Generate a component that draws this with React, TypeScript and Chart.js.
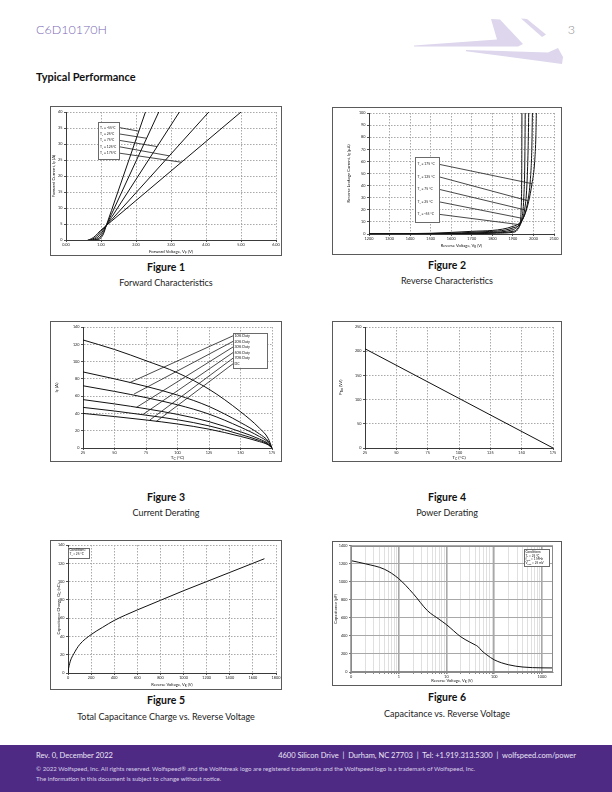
import React, { useEffect, useRef } from "react";
import { Chart, registerables } from "chart.js";

Chart.register(...registerables);

const FAM = "Lato, 'Noto Sans', 'DejaVu Sans', sans-serif";
const GRID = "#a9a9a9";

// ---------------- Figure 1 : Forward characteristics ----------------
const fwdTemps = ["-55°C", "25°C", "75°C", "125°C", "175°C"];
const fwdV_m55 = [0.84, 0.93, 1.0, 1.07, 1.15, 1.3, 2.27];
const fwdI_m55 = [0, 0.15, 0.7, 1.9, 4.5, 9.25, 40];
const fwdV_25 = [0.77, 0.87, 0.96, 1.05, 1.15, 1.3, 2.65];
const fwdI_25 = [0, 0.2, 0.8, 2.1, 4.5, 8.06, 40];
const fwdV_75 = [0.71, 0.81, 0.91, 1.02, 1.15, 1.3, 3.24];
const fwdI_75 = [0, 0.25, 0.9, 2.3, 4.5, 7.05, 40];
const fwdV_125 = [0.66, 0.76, 0.87, 1.0, 1.15, 1.3, 4.08];
const fwdI_125 = [0, 0.3, 1.1, 2.7, 4.5, 6.3, 40];
const fwdV_175 = [0.62, 0.72, 0.84, 0.98, 1.15, 1.3, 5.0];
const fwdI_175 = [0, 0.35, 1.3, 2.9, 4.5, 5.88, 40];
const fwdLeadV = [2.08, 2.3, 2.6, 2.95, 3.3];
const fwdLeadI = [34, 31.8, 29.2, 26.3, 24.3];
const fwdXTicks = [0, 1, 2, 3, 4, 5, 6];
const fwdYTicks = [0, 5, 10, 15, 20, 25, 30, 35, 40];

// ---------------- Figure 2 : Reverse characteristics ----------------
const revTemps = ["175 °C", "125 °C", "75 °C", "25 °C", "-55 °C"];
const revV_175 = [1200, 1500, 1700, 1900, 1960, 1993, 2006, 2012, 2014];
const revI_175 = [0, 0.6, 2.2, 6.3, 17, 41.6, 60, 82, 100];
const revV_125 = [1200, 1550, 1750, 1900, 1945, 1973, 1985, 1992, 1995];
const revI_125 = [0, 0.5, 1.8, 5, 11, 27.5, 45, 70, 100];
const revV_75 = [1200, 1600, 1780, 1900, 1935, 1957, 1968, 1974, 1977];
const revI_75 = [0, 0.4, 1.3, 3.6, 9, 20, 40, 70, 100];
const revV_25 = [1200, 1650, 1800, 1900, 1925, 1944, 1953, 1958, 1960];
const revI_25 = [0, 0.3, 1, 2.2, 5, 13, 30, 60, 100];
const revV_m55 = [1200, 1700, 1820, 1900, 1920, 1933, 1940, 1943, 1944];
const revI_m55 = [0, 0.2, 0.7, 1.4, 3, 7.7, 20, 50, 100];
const revLeadV = [1993, 1973, 1957, 1944, 1933];
const revLeadI = [41.6, 27.5, 20, 13, 7.7];
const revXTicks = [1200, 1300, 1400, 1500, 1600, 1700, 1800, 1900, 2000, 2100];
const revYTicks = [0, 10, 20, 30, 40, 50, 60, 70, 80, 90, 100];

// ---------------- Figure 3 : Current derating ----------------
const derDuty = ["10% Duty", "20% Duty", "30% Duty", "50% Duty", "70% Duty", "DC"];
const derTc = [25, 50, 75, 100, 125, 150, 165, 172, 175];
const derI_10 = [125, 114, 101, 87, 68, 42, 23, 11, 0];
const derI_20 = [88, 80, 71.3, 61.2, 48, 29.5, 16.3, 7.9, 0];
const derI_30 = [72, 65.5, 58.3, 50, 39.2, 24.1, 13.3, 6.5, 0];
const derI_50 = [56, 51, 45.4, 38.9, 30.5, 18.8, 10.4, 5, 0];
const derI_70 = [47, 42.8, 38, 32.7, 25.6, 15.7, 8.7, 4.2, 0];
const derI_DC = [40, 36.4, 32.4, 27.8, 21.8, 13.4, 7.4, 3.6, 0];
const derLeadT = [62, 65.5, 67.3, 72.6, 77.9, 83];
const derLeadI = [75.6, 62.4, 46.9, 38.8, 32.2, 30.5];
const derXTicks = [25, 50, 75, 100, 125, 150, 175];
const derYTicks = [0, 20, 40, 60, 80, 100, 120, 140];

// ---------------- Figure 4 : Power derating ----------------
const pwrTc = [25, 175];
const pwrP = [205, 0];
const pwrXTicks = [25, 50, 75, 100, 125, 150, 175];
const pwrYTicks = [0, 50, 100, 150, 200, 250];

// ---------------- Figure 5 : Capacitance charge ----------------
const qcV = [0, 5, 10, 20, 50, 100, 200, 300, 400, 500, 600, 800, 1000, 1200, 1400, 1600, 1700];
const qcQ = [0, 5, 8, 13, 21, 31, 42, 50, 57.5, 63.5, 69, 79.5, 90, 100, 110, 120, 125];
const qcXTicks = [0, 200, 400, 600, 800, 1000, 1200, 1400, 1600, 1800];
const qcYTicks = [0, 20, 40, 60, 80, 100, 120, 140];

// ---------------- Figure 6 : Capacitance ----------------
const capV = [0.1, 0.2, 0.5, 1, 2, 4, 7, 10, 20, 30, 40, 45, 55, 70, 100, 200, 400, 1000, 1700];
const capC = [1235, 1200, 1140, 1035, 870, 680, 585, 525, 390, 335, 300, 285, 235, 190, 135, 80, 55, 46, 45];
const capXMajors = [0.1, 1, 10, 100, 1000];
const capXLabels = ["0", "1", "10", "100", "1000"];
const capYTicks = [0, 200, 400, 600, 800, 1000, 1200, 1400];

// ------------------------------------------------------------
type Part = [string, boolean];
type Rich = Part[];
type Box = { x: number; y: number; w: number; h: number };
type Area = { l: number; t: number; r: number; b: number };
type Geo = { W: number; H: number; L: number; T: number; R: number; B: number; ox: number; oy: number };

const zip = (xs: number[], ys: number[]) => xs.map((x, i) => ({ x, y: ys[i] }));

function drawRich(ctx: CanvasRenderingContext2D, parts: Rich, x: number, y: number, size: number, align: string, color = "#111") {
  ctx.save();
  ctx.textBaseline = "middle";
  ctx.textAlign = "left";
  ctx.fillStyle = color;
  const sub = size * 0.72;
  let total = 0;
  for (const [t, s] of parts) {
    ctx.font = `${s ? sub : size}px ${FAM}`;
    total += ctx.measureText(t).width;
  }
  let cx = align === "center" ? x - total / 2 : align === "right" ? x - total : x;
  for (const [t, s] of parts) {
    ctx.font = `${s ? sub : size}px ${FAM}`;
    ctx.fillText(t, cx, s ? y + size * 0.3 : y);
    cx += ctx.measureText(t).width;
  }
  ctx.restore();
}

type Callout = {
  box: Box;
  rows: Rich[];
  rowY: number[];
  textX: number;
  size: number;
  anchor?: "left" | "right";
  endX?: number[];
  endY?: number[];
};
type Decor = {
  xTitle: Rich;
  xTitleY: number;
  yTitle: Rich;
  yTitleX: number;
  titleSize: number;
  frame?: string;
  callout?: Callout;
};

function decorPlugin(d: Decor, g: Geo) {
  return {
    id: "decor",
    afterDraw(chart: any) {
      const ctx: CanvasRenderingContext2D = chart.ctx;
      const a = chart.chartArea;
      const sx = chart.scales.x;
      const sy = chart.scales.y;
      if (d.frame) {
        ctx.save();
        ctx.strokeStyle = d.frame;
        ctx.lineWidth = 1;
        ctx.strokeRect(Math.round(a.left) + 0.5, Math.round(a.top) + 0.5, Math.round(a.right - a.left) - 1, Math.round(a.bottom - a.top) - 1);
        ctx.restore();
      }
      drawRich(ctx, d.xTitle, (a.left + a.right) / 2, d.xTitleY - g.oy, d.titleSize, "center");
      ctx.save();
      ctx.translate(d.yTitleX - g.ox, (a.top + a.bottom) / 2);
      ctx.rotate(-Math.PI / 2);
      drawRich(ctx, d.yTitle, 0, 0, d.titleSize, "center");
      ctx.restore();
      const c = d.callout;
      if (c) {
        const bx = c.box.x - g.ox;
        const by = c.box.y - g.oy;
        ctx.save();
        if (c.endX && c.endY) {
          ctx.strokeStyle = "#1a1a1a";
          ctx.lineWidth = 0.8;
          c.rowY.forEach((ry, i) => {
            if (c.endX![i] === undefined) return;
            const ax = c.anchor === "left" ? bx : bx + c.box.w;
            ctx.beginPath();
            ctx.moveTo(ax, ry - g.oy);
            ctx.lineTo(sx.getPixelForValue(c.endX![i]), sy.getPixelForValue(c.endY![i]));
            ctx.stroke();
          });
        }
        ctx.fillStyle = "#fff";
        ctx.fillRect(bx, by, c.box.w, c.box.h);
        ctx.strokeStyle = "#6a6a6a";
        ctx.lineWidth = 1;
        ctx.strokeRect(Math.round(bx) + 0.5, Math.round(by) + 0.5, Math.round(c.box.w), Math.round(c.box.h));
        c.rows.forEach((r, i) => drawRich(ctx, r, c.textX - g.ox, c.rowY[i] - g.oy, c.size, "left"));
        ctx.restore();
      }
    },
  };
}

function linAxis(pos: "x" | "y", g: Geo, min: number, max: number, ticks: number[], fmt: (v: number) => string) {
  return {
    type: "linear",
    position: pos === "x" ? "bottom" : "left",
    min,
    max,
    afterBuildTicks: (s: any) => {
      s.ticks = ticks.map((v) => ({ value: v }));
    },
    afterFit: (s: any) => {
      if (pos === "x") s.height = g.H - g.B;
      else s.width = g.L;
    },
    grid: { color: GRID, lineWidth: 1, tickLength: 2, tickColor: "#555", drawTicks: true },
    border: { display: true, color: "#3a3a3a", width: 1, dash: [1.5, 1.5] },
    ticks: {
      autoSkip: false,
      maxRotation: 0,
      minRotation: 0,
      padding: pos === "x" ? 0.5 : 1.5,
      color: "#222",
      font: { size: 3.8, family: FAM },
      callback: (v: any) => fmt(Number(v)),
    },
    title: { display: false },
  };
}

function lineSet(data: { x: number; y: number }[]) {
  return {
    data,
    borderColor: "#111",
    borderWidth: 1,
    pointRadius: 0,
    fill: false,
    cubicInterpolationMode: "monotone",
  };
}

function baseOptions(g: Geo, scales: any) {
  return {
    animation: false,
    responsive: false,
    devicePixelRatio: 1,
    layout: { padding: { top: g.T, right: g.W - g.R, left: 0, bottom: 0 } },
    plugins: { legend: { display: false }, tooltip: { enabled: false } },
    scales,
  };
}

function PlotBox({ box, area, build }: { box: Box; area: Area; build: (g: Geo) => any }) {
  const ref = useRef<HTMLCanvasElement>(null);
  useEffect(() => {
    const W = box.w - 2;
    const H = box.h - 2;
    const ox = box.x + 1;
    const oy = box.y + 1;
    const g: Geo = { W, H, ox, oy, L: area.l - ox, T: area.t - oy, R: area.r - ox, B: area.b - oy };
    const chart = new Chart(ref.current as HTMLCanvasElement, build(g));
    return () => chart.destroy();
  }, []);
  return (
    <div
      style={{
        position: "absolute",
        left: box.x,
        top: box.y,
        width: box.w,
        height: box.h,
        border: "1px solid #5a5a5a",
        boxSizing: "border-box",
        background: "#fff",
      }}
    >
      <canvas ref={ref} width={box.w - 2} height={box.h - 2} style={{ display: "block", width: box.w - 2, height: box.h - 2 }} />
    </div>
  );
}

const TJ = (rest: string): Rich => [["T", false], ["J", true], [rest, false]];

// ---------------- chart builders ----------------
function buildFwd(g: Geo) {
  const sets = [
    zip(fwdV_m55, fwdI_m55),
    zip(fwdV_25, fwdI_25),
    zip(fwdV_75, fwdI_75),
    zip(fwdV_125, fwdI_125),
    zip(fwdV_175, fwdI_175),
  ].map(lineSet);
  const rowY = fwdTemps.map((_, i) => 127.5 + i * 6.4);
  return {
    type: "line",
    data: { datasets: sets },
    options: baseOptions(g, {
      x: linAxis("x", g, 0, 6, fwdXTicks, (v) => v.toFixed(2)),
      y: linAxis("y", g, 0, 40, fwdYTicks, (v) => String(v)),
    }),
    plugins: [
      decorPlugin(
        {
          xTitle: [["Forward Voltage, V", false], ["F", true], [" (V)", false]],
          xTitleY: 251.5,
          yTitle: [["Forward Current, I", false], ["F", true], [" (A)", false]],
          yTitleX: 54,
          titleSize: 4.3,
          callout: {
            box: { x: 98, y: 122, w: 21, h: 37 },
            rows: fwdTemps.map((t) => TJ(" = " + t)),
            rowY,
            textX: 100,
            size: 3.4,
            anchor: "right",
            endX: fwdLeadV,
            endY: fwdLeadI,
          },
        },
        g
      ),
    ],
  };
}

function buildRev(g: Geo) {
  const sets = [
    zip(revV_175, revI_175),
    zip(revV_125, revI_125),
    zip(revV_75, revI_75),
    zip(revV_25, revI_25),
    zip(revV_m55, revI_m55),
  ].map(lineSet);
  const rowY = revTemps.map((_, i) => 164.3 + i * 12.5);
  return {
    type: "line",
    data: { datasets: sets },
    options: baseOptions(g, {
      x: linAxis("x", g, 1200, 2100, revXTicks, (v) => String(v)),
      y: linAxis("y", g, 0, 100, revYTicks, (v) => String(v)),
    }),
    plugins: [
      decorPlugin(
        {
          xTitle: [["Reverse Voltage, V", false], ["R", true], [" (V)", false]],
          xTitleY: 245.5,
          yTitle: [["Reverse Leakage Current, I", false], ["R", true], [" (µA)", false]],
          yTitleX: 348.5,
          titleSize: 4.1,
          callout: {
            box: { x: 415, y: 157, w: 24, h: 65 },
            rows: revTemps.map((t) => TJ(" = " + t)),
            rowY,
            textX: 417.5,
            size: 3.4,
            anchor: "right",
            endX: revLeadV,
            endY: revLeadI,
          },
        },
        g
      ),
    ],
  };
}

function buildDer(g: Geo) {
  const sets = [derI_10, derI_20, derI_30, derI_50, derI_70, derI_DC].map((ys) => lineSet(zip(derTc, ys)));
  const rowY = derDuty.map((_, i) => 335.8 + i * 5.6);
  return {
    type: "line",
    data: { datasets: sets },
    options: baseOptions(g, {
      x: linAxis("x", g, 25, 175, derXTicks, (v) => String(v)),
      y: linAxis("y", g, 0, 140, derYTicks, (v) => String(v)),
    }),
    plugins: [
      decorPlugin(
        {
          xTitle: [["T", false], ["C", true], [" (°C)", false]],
          xTitleY: 457.5,
          yTitle: [["I", false], ["F", true], [" (A)", false]],
          yTitleX: 57,
          titleSize: 4.6,
          callout: {
            box: { x: 233, y: 333, w: 34, h: 34.5 },
            rows: derDuty.map((t) => [[t, false]] as Rich),
            rowY,
            textX: 234.5,
            size: 3.5,
            anchor: "left",
            endX: derLeadT,
            endY: derLeadI,
          },
        },
        g
      ),
    ],
  };
}

function buildPwr(g: Geo) {
  return {
    type: "line",
    data: { datasets: [lineSet(zip(pwrTc, pwrP))] },
    options: baseOptions(g, {
      x: linAxis("x", g, 25, 175, pwrXTicks, (v) => String(v)),
      y: linAxis("y", g, 0, 250, pwrYTicks, (v) => String(v)),
    }),
    plugins: [
      decorPlugin(
        {
          xTitle: [["T", false], ["C", true], [" (°C)", false]],
          xTitleY: 457.5,
          yTitle: [["P", false], ["Tot", true], [" (W)", false]],
          yTitleX: 341,
          titleSize: 4.6,
        },
        g
      ),
    ],
  };
}

function buildQc(g: Geo) {
  return {
    type: "line",
    data: { datasets: [lineSet(zip(qcV, qcQ))] },
    options: baseOptions(g, {
      x: linAxis("x", g, 0, 1800, qcXTicks, (v) => String(v)),
      y: linAxis("y", g, 0, 140, qcYTicks, (v) => String(v)),
    }),
    plugins: [
      decorPlugin(
        {
          xTitle: [["Reverse Voltage, V", false], ["R", true], [" (V)", false]],
          xTitleY: 684.5,
          yTitle: [["Capacitance Charge, Q", false], ["C", true], [" (nC)", false]],
          yTitleX: 58.5,
          titleSize: 4.1,
          callout: {
            box: { x: 68, y: 547.5, w: 21, h: 9.5 },
            rows: [[["Conditions:", false]], TJ(" = 25 °C")],
            rowY: [550.3, 554.4],
            textX: 69.5,
            size: 3.2,
          },
        },
        g
      ),
    ],
  };
}

function buildCap(g: Geo) {
  const minors: number[] = [];
  capXMajors.forEach((m) => {
    for (let k = 2; k <= 9; k++) if (m * k < 1700) minors.push(+(m * k).toPrecision(3));
  });
  const all = [...capXMajors, ...minors].sort((a, b) => a - b);
  const isMajor = (v: number) => capXMajors.indexOf(v) >= 0;
  const yAx: any = linAxis("y", g, 0, 1400, capYTicks, (v) => String(v));
  yAx.grid = { color: "#a8a8a8", lineWidth: 1, tickLength: 2, tickColor: "#777", drawTicks: true };
  yAx.border = { display: true, color: "#8a8a8a", width: 1 };
  const xAx: any = {
    type: "logarithmic",
    position: "bottom",
    min: 0.1,
    max: 1700,
    afterBuildTicks: (s: any) => {
      s.ticks = all.map((v) => ({ value: v }));
    },
    afterFit: (s: any) => {
      s.height = g.H - g.B;
    },
    grid: {
      color: (c: any) => (c.tick && isMajor(c.tick.value) ? "#a8a8a8" : "#e0e0e0"),
      lineWidth: (c: any) => (c.tick && isMajor(c.tick.value) ? 1.6 : 1),
      tickLength: 2,
      tickColor: "#888",
      drawTicks: true,
    },
    border: { display: true, color: "#8a8a8a", width: 1 },
    ticks: {
      autoSkip: false,
      maxRotation: 0,
      minRotation: 0,
      padding: 0.5,
      color: "#222",
      font: { size: 3.8, family: FAM },
      callback: (v: any) => {
        const i = capXMajors.indexOf(Number(v));
        return i >= 0 ? capXLabels[i] : "";
      },
    },
    title: { display: false },
  };
  return {
    type: "line",
    data: { datasets: [lineSet(zip(capV, capC))] },
    options: baseOptions(g, { x: xAx, y: yAx }),
    plugins: [
      decorPlugin(
        {
          xTitle: [["Reverse Voltage, V", false], ["R", true], [" (V)", false]],
          xTitleY: 680.5,
          yTitle: [["Capacitance (pF)", false]],
          yTitleX: 335.5,
          titleSize: 4.1,
          frame: "#8a8a8a",
          callout: {
            box: { x: 524, y: 549, w: 25, h: 17 },
            rows: [
              [["Conditions:", false]],
              TJ(" = 25 °C"),
              [["f", false], ["test", true], [" = 1 MHz", false]],
              [["V", false], ["test", true], [" = 25 mV", false]],
            ],
            rowY: [551.8, 555.6, 559.4, 563.2],
            textX: 525.5,
            size: 3.1,
          },
        },
        g
      ),
    ],
  };
}

// ---------------- page ----------------
function Txt(p: { x: number; cy: number; size: number; children: any; align?: string; bold?: boolean; color?: string; weight?: number }) {
  const st: any = {
    position: "absolute",
    top: p.cy - p.size / 2,
    fontSize: p.size,
    lineHeight: 1,
    whiteSpace: "nowrap",
    fontFamily: FAM,
    fontWeight: p.weight ?? (p.bold ? 700 : 400),
    color: p.color ?? "#111",
  };
  if (p.align === "center") {
    st.left = p.x;
    st.transform = "translateX(-50%)";
  } else if (p.align === "right") {
    st.right = 612 - p.x;
  } else st.left = p.x;
  return <div style={st}>{p.children}</div>;
}

export default function App() {
  const boxes = {
    f1: { box: { x: 50, y: 106, w: 232, h: 150 }, area: { l: 66, t: 112, r: 276, b: 240 } },
    f2: { box: { x: 332, y: 107, w: 230, h: 148 }, area: { l: 369, t: 113, r: 554, b: 234 } },
    f3: { box: { x: 50, y: 321, w: 232, h: 141 }, area: { l: 83, t: 327, r: 272, b: 448 } },
    f4: { box: { x: 332, y: 321, w: 230, h: 141 }, area: { l: 365, t: 327, r: 553, b: 448 } },
    f5: { box: { x: 50, y: 540, w: 232, h: 150 }, area: { l: 68, t: 545, r: 276, b: 673 } },
    f6: { box: { x: 332, y: 541, w: 230, h: 145 }, area: { l: 351, t: 545, r: 553, b: 672 } },
  };
  const caps = [
    { cx: 166, y1: 267.5, y2: 282.5, t: "Figure 1", s: "Forward Characteristics" },
    { cx: 447, y1: 265.5, y2: 280.5, t: "Figure 2", s: "Reverse Characteristics" },
    { cx: 166, y1: 497, y2: 512, t: "Figure 3", s: "Current Derating" },
    { cx: 447, y1: 497, y2: 512, t: "Figure 4", s: "Power Derating" },
    { cx: 166, y1: 700, y2: 716, t: "Figure 5", s: "Total Capacitance Charge vs. Reverse Voltage" },
    { cx: 447, y1: 697, y2: 713, t: "Figure 6", s: "Capacitance vs. Reverse Voltage" },
  ];
  return (
    <div style={{ position: "absolute", left: 0, top: 0, width: 612, height: 792, background: "#fff", overflow: "hidden", fontFamily: FAM }}>
      <Txt x={36} cy={30.5} size={12.5} color="#7a68b4" weight={300}>C6D10170H</Txt>
      <Txt x={575} cy={30.5} size={12.5} color="#8a8a8a" align="right" weight={300}>3</Txt>
      <svg style={{ position: "absolute", left: 0, top: 0 }} width={612} height={80}>
        <polygon points="414,45.5 497,39.5 491,19 500,19.5 523,44 518,46.5 414,46.5" fill="#ddd6ec" />
        <polygon points="466,50 548,52.5 558,48 563,57 562,64 466,51.2" fill="#ddd6ec" />
        <polygon points="521,18.5 527,19 546,34.5 542,37" fill="#ddd6ec" />
      </svg>
      <Txt x={36} cy={76} size={11} bold>Typical Performance</Txt>

      <PlotBox {...boxes.f1} build={buildFwd} />
      <PlotBox {...boxes.f2} build={buildRev} />
      <PlotBox {...boxes.f3} build={buildDer} />
      <PlotBox {...boxes.f4} build={buildPwr} />
      <PlotBox {...boxes.f5} build={buildQc} />
      <PlotBox {...boxes.f6} build={buildCap} />

      {caps.map((c, i) => (
        <React.Fragment key={i}>
          <Txt x={c.cx} cy={c.y1} size={10.5} bold align="center">{c.t}</Txt>
          <Txt x={c.cx} cy={c.y2} size={9} align="center" color="#222">{c.s}</Txt>
        </React.Fragment>
      ))}

      <div style={{ position: "absolute", left: 0, top: 745, width: 612, height: 47, background: "#4e2a84" }} />
      <Txt x={36} cy={755.5} size={7.5} color="#ece6f6">Rev. 0, December 2022</Txt>
      <Txt x={576} cy={755.5} size={7.5} color="#ece6f6" align="right">
        4600 Silicon Drive&nbsp;&nbsp;|&nbsp;&nbsp;Durham, NC 27703&nbsp;&nbsp;|&nbsp;&nbsp;Tel: +1.919.313.5300&nbsp;&nbsp;|&nbsp;&nbsp;wolfspeed.com/power
      </Txt>
      <Txt x={36} cy={769.5} size={6.1} color="#d9d0e8">
        © 2022 Wolfspeed, Inc. All rights reserved. Wolfspeed® and the Wolfstreak logo are registered trademarks and the Wolfspeed logo is a trademark of Wolfspeed, Inc.
      </Txt>
      <Txt x={36} cy={779.5} size={6.1} color="#d9d0e8">
        The information in this document is subject to change without notice.
      </Txt>
    </div>
  );
}
